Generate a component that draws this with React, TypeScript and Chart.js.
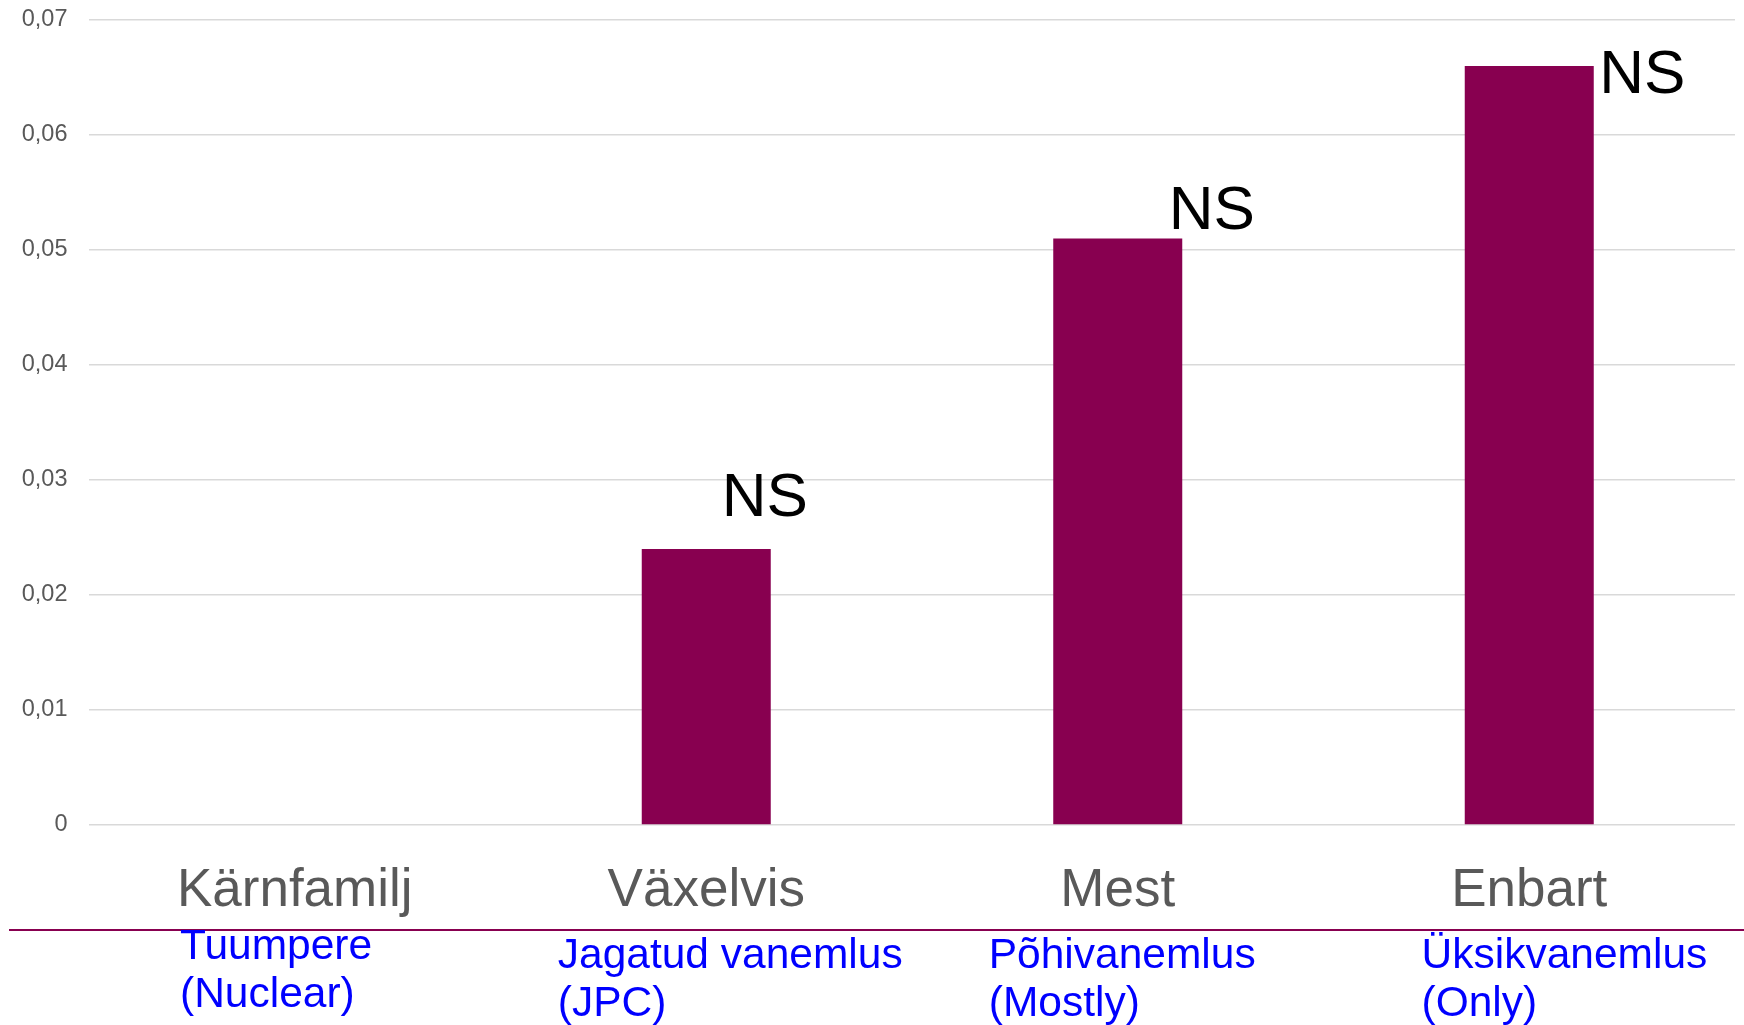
import React, { useEffect, useRef } from "react";
import { Chart, registerables } from "chart.js";

Chart.register(...registerables);

// ---- data ----
const categories = ["Kärnfamilj", "Växelvis", "Mest", "Enbart"];
const values = [0, 0.024, 0.051, 0.066];
const significance = ["", "NS", "NS", "NS"];
const estonianLabels = [
  ["Tuumpere", "(Nuclear)"],
  ["Jagatud vanemlus", "(JPC)"],
  ["Põhivanemlus", "(Mostly)"],
  ["Üksikvanemlus", "(Only)"],
];
const yMin = 0;
const yMax = 0.07;
const yStep = 0.01;

const FONT = "'Liberation Sans', Arial, sans-serif";
const MAROON = "#880050";

const nsPlugin = {
  id: "nsLabels",
  afterDatasetsDraw(chart: any, _args: any, opts: any) {
    const meta = chart.getDatasetMeta(0);
    const ctx = chart.ctx;
    ctx.save();
    ctx.font = `${opts.size}px ${FONT}`;
    ctx.fillStyle = "#000000";
    ctx.textAlign = "left";
    ctx.textBaseline = "alphabetic";
    meta.data.forEach((el: any, i: number) => {
      const t = significance[i];
      if (!t) return;
      ctx.fillText(t, el.x + opts.dx[i], el.y + opts.dy[i]);
    });
    ctx.restore();
  },
};

const footerPlugin = {
  id: "footerLabels",
  afterDraw(chart: any, _args: any, opts: any) {
    const ctx = chart.ctx;
    const area = chart.chartArea;
    const xScale = chart.scales.x;
    ctx.save();
    // maroon separator line
    ctx.strokeStyle = MAROON;
    ctx.lineWidth = 2;
    ctx.beginPath();
    ctx.moveTo(opts.lineLeft, area.bottom + opts.lineOffset);
    ctx.lineTo(chart.width, area.bottom + opts.lineOffset);
    ctx.stroke();
    // blue Estonian labels
    ctx.font = `${opts.size}px ${FONT}`;
    ctx.fillStyle = "#0000ff";
    ctx.textAlign = "left";
    ctx.textBaseline = "alphabetic";
    estonianLabels.forEach((lines, i) => {
      const x = xScale.getPixelForValue(i) + opts.dx[i];
      lines.forEach((line, j) => {
        ctx.fillText(line, x, area.bottom + opts.baseline[i] + j * opts.lineHeight);
      });
    });
    ctx.restore();
  },
};

export default function App() {
  const ref = useRef<HTMLCanvasElement | null>(null);

  useEffect(() => {
    if (!ref.current) return;
    const chart = new Chart(ref.current, {
      type: "bar",
      data: {
        labels: categories,
        datasets: [
          {
            data: values,
            backgroundColor: MAROON,
            borderWidth: 0,
            barPercentage: 0.3135,
            categoryPercentage: 1,
          },
        ],
      },
      options: {
        animation: false,
        responsive: false,
        devicePixelRatio: 1,
        layout: { padding: { left: 0, right: 9, top: 20, bottom: 0 } },
        plugins: {
          legend: { display: false },
          tooltip: { enabled: false },
          nsLabels: { size: 62, dx: [0, 15.5, 51, 70], dy: [0, -33, -10, 26.6] },
          footerLabels: {
            size: 42.5,
            lineLeft: 9,
            lineOffset: 105,
            dx: [-114.75, -148.5, -129, -107.75],
            baseline: [134, 143, 143, 143],
            lineHeight: 47.5,
          },
        } as any,
        scales: {
          x: {
            grid: { display: false, drawTicks: false },
            border: { display: false },
            ticks: {
              color: "#595959",
              font: { family: FONT, size: 53 },
              padding: 35,
              maxRotation: 0,
              autoSkip: false,
            },
            afterFit: (axis: any) => {
              axis.height = 200;
            },
          },
          y: {
            min: yMin,
            max: yMax,
            grid: { color: "#d9d9d9", lineWidth: 1.5, drawTicks: false },
            border: { display: false },
            ticks: {
              stepSize: yStep,
              color: "#595959",
              font: { family: FONT, size: 23.5 },
              padding: 21.5,
              callback: (v: any) =>
                Number(v) === 0 ? "0" : Number(v).toFixed(2).replace(".", ","),
            },
            afterFit: (axis: any) => {
              axis.width = 89;
              axis.paddingTop = 0;
              axis.paddingBottom = 0;
            },
          },
        },
      },
      plugins: [nsPlugin, footerPlugin],
    });
    return () => chart.destroy();
  }, []);

  return (
    <div style={{ position: "absolute", left: 0, top: 0, width: 1744, height: 1025, background: "#ffffff" }}>
      <canvas ref={ref} width={1744} height={1025} style={{ display: "block" }} />
    </div>
  );
}
